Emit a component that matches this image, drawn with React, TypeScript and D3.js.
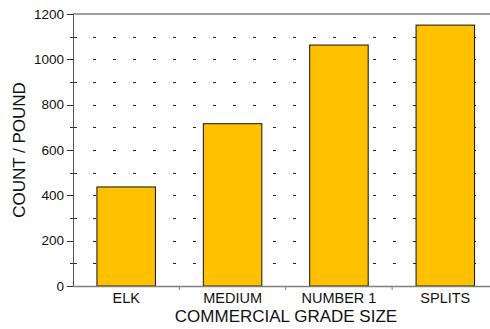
import React from "react";
import * as d3 from "d3";

const categories = ["ELK", "MEDIUM", "NUMBER 1", "SPLITS"];
const counts = [437, 716, 1063, 1151];
const yMajorTicks = [0, 200, 400, 600, 800, 1000, 1200];
const yMinorTicks = [100, 300, 500, 700, 900, 1100];
const gridLevels = [100, 200, 300, 400, 500, 600, 700, 800, 900, 1000, 1100];

const W = 490;
const H = 329;
const M = { left: 73, right: -8.5, top: 14, bottom: 43 };
const FONT = "'Liberation Sans', Arial, sans-serif";

export default function App() {
  const x = d3
    .scaleBand<string>()
    .domain(categories)
    .range([M.left, W - M.right])
    .paddingInner(0)
    .paddingOuter(0);
  const y = d3.scaleLinear().domain([0, 1200]).range([H - M.bottom, M.top]);
  const barW = x.bandwidth() * 0.55;
  const y0 = y(0);
  const axisColor = "#7f7f7f";

  const boundaries = categories.slice(1).map((c) => x(c)!);

  return (
    <svg
      width={W}
      height={H}
      style={{ position: "absolute", left: 0, top: 0, background: "#fff" }}
      fontFamily={FONT}
    >
      {/* grid dashes */}
      {gridLevels.map((v) => (
        <line
          key={"g" + v}
          x1={M.left + 20}
          x2={W}
          y1={Math.round(y(v)) + 0.5}
          y2={Math.round(y(v)) + 0.5}
          stroke="#222"
          strokeWidth={1}
          strokeDasharray="3,17"
        />
      ))}
      {/* top border */}
      <line x1={M.left} x2={W} y1={M.top} y2={M.top} stroke={axisColor} strokeWidth={1.5} />
      {/* bars */}
      {categories.map((c, i) => (
        <rect
          key={c}
          x={x(c)! + (x.bandwidth() - barW) / 2}
          y={y(counts[i])}
          width={barW}
          height={y0 - y(counts[i])}
          fill="#FFC000"
          stroke="#111"
          strokeWidth={1}
        />
      ))}
      {/* y axis */}
      <line x1={M.left + 0.5} x2={M.left + 0.5} y1={M.top} y2={y0} stroke="#555" strokeWidth={1} />
      {yMajorTicks.map((v) => (
        <g key={"m" + v}>
          <line x1={M.left - 6} x2={M.left} y1={Math.round(y(v)) + 0.5} y2={Math.round(y(v)) + 0.5} stroke="#333" />
          <text x={M.left - 9} y={y(v)} dy="0.35em" textAnchor="end" fontSize={13.5} fill="#111">
            {v}
          </text>
        </g>
      ))}
      {yMinorTicks.map((v) => (
        <line
          key={"n" + v}
          x1={M.left - 3}
          x2={M.left + 4}
          y1={Math.round(y(v)) + 0.5}
          y2={Math.round(y(v)) + 0.5}
          stroke="#333"
        />
      ))}
      {/* x axis */}
      <line x1={M.left} x2={W} y1={y0 + 0.5} y2={y0 + 0.5} stroke={axisColor} strokeWidth={1.5} />
      {boundaries.map((b, i) => (
        <line key={"b" + i} x1={b} x2={b} y1={y0} y2={y0 + 4} stroke={axisColor} />
      ))}
      {categories.map((c) => (
        <text
          key={"l" + c}
          x={x(c)! + x.bandwidth() / 2}
          y={y0 + 17}
          textAnchor="middle"
          fontSize={14.5}
          fill="#111"
        >
          {c}
        </text>
      ))}
      <text x={286} y={322} textAnchor="middle" fontSize={17} fill="#111">
        COMMERCIAL GRADE SIZE
      </text>
      <text
        transform={`translate(25,${(M.top + y0) / 2}) rotate(-90)`}
        textAnchor="middle"
        fontSize={17}
        fill="#111"
      >
        COUNT / POUND
      </text>
    </svg>
  );
}
